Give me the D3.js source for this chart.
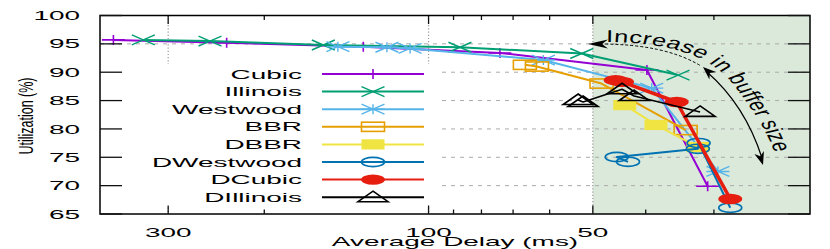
<!DOCTYPE html>
<html><head><meta charset="utf-8">
<script src="https://cdn.jsdelivr.net/npm/d3@7"></script>
<style>body{margin:0;background:#fff}svg{display:block}</style>
</head><body><svg id="c" width="830" height="249"></svg>
<script>
// ---------- data ----------
const seriesNames  = ["Cubic","Illinois","Westwood","BBR","DBBR","DWestwood","DCubic","DIllinois"];
const seriesColors = ["#9400d3","#009e73","#56b4e9","#e69f00","#f0e442","#0072b2","#e51e10","#000000"];
const seriesMarkers = ["plus","cross","star","sqOpen","sqFill","circOpen","circFill","triOpen"];

const cubicDelay = [378, 234.4, 131.7, 74, 39.8, 30.8];
const cubicUtil  = [95.7, 95.2, 94.5, 93.4, 90.4, 69.9];
const illinoisDelay = [333.2, 251.5, 155.9, 87.6, 52.4, 34.9];
const illinoisUtil  = [95.7, 95.5, 94.8, 94.4, 93.3, 89.5];
const westwoodDelay = [146.6, 119.2, 108.1, 61.6, 39.0, 29.5];
const westwoodUtil  = [94.5, 94.4, 94.2, 92.15, 87.2, 72.5];
const bbrDelay = [66.6, 63.3, 48.2, 33.8];
const bbrUtil  = [91.3, 91.0, 88.0, 79.8];
const dbbrDelay = [43.7, 38.3, 32.1];
const dbbrUtil  = [84.2, 80.7, 76.8];
const dwestwoodDelay = [43.1, 45.2, 32.1, 32.0, 28.0];
const dwestwoodUtil  = [74.2, 75.05, 76.5, 77.5, 66.1];
const dcubicDelay = [45.4, 44.2, 35.1, 28.0];
const dcubicUtil  = [88.6, 88.3, 84.75, 67.65];
const dillinoisDelay = [53.2, 52.1, 44.2, 42.0, 31.8];
const dillinoisUtil  = [85.1, 84.75, 87.0, 85.8, 83.0];

const seriesDelay = [cubicDelay, illinoisDelay, westwoodDelay, bbrDelay, dbbrDelay, dwestwoodDelay, dcubicDelay, dillinoisDelay];
const seriesUtil  = [cubicUtil, illinoisUtil, westwoodUtil, bbrUtil, dbbrUtil, dwestwoodUtil, dcubicUtil, dillinoisUtil];

const xTickMajor = [300, 100, 50];
const xTickMinor = [200, 90, 80, 70, 60, 40, 30];
const yTicks = [65, 70, 75, 80, 85, 90, 95, 100];
const xGrid = [300, 100, 50];
const yGrid = [70, 75, 80, 85, 90, 95];
const shadeFrom = 50;
const xTitle = "Average Delay (ms)";
const yTitle = "Utilization (%)";
const annotation = "Increase in buffer size";

// ---------- layout ----------
const L = 100, R = 810, T = 15.5, B = 214;
const svg = d3.select("#c");
const x = d3.scaleLog().domain([400, 20]).range([L, R]);
const y = d3.scaleLinear().domain([65, 100]).range([B, T]);
const FONT = "'Liberation Sans', Arial, Helvetica, sans-serif";
const SX = 2.15;

function stext(parent, px, py, str, anchor, size, sx, rot) {
  const g = parent.append("g").attr("transform", `translate(${px},${py}) scale(${sx},1)` + (rot ? ` rotate(${rot})` : ""));
  return g.append("text").attr("x", 0).attr("y", 0).attr("text-anchor", anchor)
    .attr("font-size", size).attr("font-family", FONT).attr("fill", "#000").text(str);
}

// shaded region
svg.append("rect").attr("x", x(shadeFrom)).attr("y", T).attr("width", R - x(shadeFrom)).attr("height", B - T)
  .attr("fill", "#dbe9da");

// grid
const grid = svg.append("g");
yGrid.forEach(v => grid.append("line").attr("x1", L).attr("x2", R).attr("y1", y(v)).attr("y2", y(v))
  .attr("stroke", "#aaa").attr("stroke-width", 1).attr("stroke-dasharray", "4,5"));
xGrid.forEach(v => grid.append("line").attr("x1", x(v)).attr("x2", x(v)).attr("y1", T).attr("y2", B)
  .attr("stroke", "#999").attr("stroke-width", 1.2).attr("stroke-dasharray", "1.2,2"));

// clip
svg.append("clipPath").attr("id", "clip").append("rect").attr("x", L).attr("y", T).attr("width", R - L).attr("height", B - T);

function marker(g, type, cx, cy, color) {
  const hw = 11.5, hh = 4.6;
  if (type === "plus") {
    g.append("path").attr("d", `M${cx-hw},${cy}H${cx+hw}M${cx},${cy-5}V${cy+5}`).attr("stroke", color).attr("stroke-width", 1.6).attr("fill", "none");
  } else if (type === "cross") {
    g.append("path").attr("d", `M${cx-hw},${cy-5}L${cx+hw},${cy+5}M${cx-hw},${cy+5}L${cx+hw},${cy-5}`).attr("stroke", color).attr("stroke-width", 1.4).attr("fill", "none");
  } else if (type === "star") {
    g.append("path").attr("d", `M${cx-hw},${cy-5}L${cx+hw},${cy+5}M${cx-hw},${cy+5}L${cx+hw},${cy-5}M${cx-hw},${cy}H${cx+hw}M${cx},${cy-5}V${cy+5}`).attr("stroke", color).attr("stroke-width", 1.4).attr("fill", "none");
  } else if (type === "sqOpen") {
    g.append("rect").attr("x", cx-hw).attr("y", cy-hh).attr("width", 2*hw).attr("height", 2*hh).attr("stroke", color).attr("stroke-width", 1.6).attr("fill", "none");
  } else if (type === "sqFill") {
    g.append("rect").attr("x", cx-hw).attr("y", cy-hh-0.5).attr("width", 2*hw).attr("height", 2*hh+1).attr("fill", color);
  } else if (type === "circOpen") {
    g.append("ellipse").attr("cx", cx).attr("cy", cy).attr("rx", hw).attr("ry", hh).attr("stroke", color).attr("stroke-width", 1.6).attr("fill", "none");
  } else if (type === "circFill") {
    g.append("ellipse").attr("cx", cx).attr("cy", cy).attr("rx", 12).attr("ry", 5.2).attr("fill", color);
  } else if (type === "triOpen") {
    g.append("path").attr("d", `M${cx},${cy-6}L${cx+15},${cy+4.5}L${cx-15},${cy+4.5}Z`).attr("stroke", color).attr("stroke-width", 1.6).attr("fill", "none");
  }
}

// series
const data = svg.append("g").attr("clip-path", "url(#clip)");
const line = d3.line().x(d => x(d[0])).y(d => y(d[1]));
seriesNames.forEach((name, i) => {
  const pts = seriesDelay[i].map((d, j) => [d, seriesUtil[i][j]]);
  const g = data.append("g");
  g.append("path").attr("d", line(pts)).attr("fill", "none").attr("stroke", seriesColors[i])
    .attr("stroke-width", name === "DCubic" ? 3.5 : (name === "DIllinois" ? 1.6 : 2)).attr("stroke-linejoin", "round");
  pts.forEach(p => marker(g, seriesMarkers[i], x(p[0]), y(p[1]), seriesColors[i]));
});

// legend
const lg = svg.append("g");
lg.append("rect").attr("x", L + 1).attr("y", 64).attr("width", 340).attr("height", 143).attr("fill", "#fff");
const legY0 = 74, legDY = 17.6;
seriesNames.forEach((name, i) => {
  const ry = legY0 + i * legDY;
  stext(lg, 302, ry + 4.6, name, "end", 13, SX);
  lg.append("line").attr("x1", 322).attr("x2", 424).attr("y1", ry).attr("y2", ry)
    .attr("stroke", seriesColors[i]).attr("stroke-width", 2);
  marker(lg, seriesMarkers[i], 373, ry, seriesColors[i]);
});

// annotation
const ann = svg.append("g");
ann.append("path").attr("d", "M600,44 Q665,44 701,66").attr("fill", "none").attr("stroke", "#000").attr("stroke-width", 1).attr("stroke-dasharray", "3,2");
ann.append("path").attr("d", "M707,72 Q745,105 762,158").attr("fill", "none").attr("stroke", "#000").attr("stroke-width", 1.2);
function arrowHead(tx, ty, dx, dy, len, hw) {
  const n = Math.hypot(dx, dy); const ux = dx / n, uy = dy / n; const px = -uy, py = ux;
  const bx = tx - ux * len, by = ty - uy * len;
  const nx = tx - ux * len * 0.7, ny = ty - uy * len * 0.7;
  ann.append("path").attr("d", `M${tx},${ty}L${bx + px*hw},${by + py*hw}L${nx},${ny}L${bx - px*hw},${by - py*hw}Z`).attr("fill", "#000");
}
arrowHead(588, 44, -1, 0, 20, 4.5);
arrowHead(703, 67, -37, -33, 13, 5);
arrowHead(763, 165, 17, 55, 13, 5);
const SA = 1.5;
const annT = svg.append("g").attr("transform", `scale(${SA},1)`);
const annPath = annT.append("path").attr("id", "annPath").attr("fill", "none")
  .attr("d", `M${606/SA},42 Q${700/SA},42 ${733/SA},84 T${775/SA},154`);
const plen = annPath.node().getTotalLength();
annT.append("text").attr("font-size", 17).attr("font-family", FONT)
  .append("textPath").attr("href", "#annPath").attr("textLength", plen - 2).attr("lengthAdjust", "spacing").text(annotation);

// frame
svg.append("rect").attr("x", L).attr("y", T).attr("width", R - L).attr("height", B - T).attr("fill", "none").attr("stroke", "#000").attr("stroke-width", 1.5);

// ticks
const tk = svg.append("g").attr("stroke", "#111").attr("stroke-width", 1.3);
xTickMajor.forEach(v => {
  tk.append("line").attr("x1", x(v)).attr("x2", x(v)).attr("y1", B).attr("y2", B - 8.5);
  tk.append("line").attr("x1", x(v)).attr("x2", x(v)).attr("y1", T).attr("y2", T + 8.5);
});
xTickMinor.forEach(v => {
  tk.append("line").attr("x1", x(v)).attr("x2", x(v)).attr("y1", B).attr("y2", B - 4.5);
  tk.append("line").attr("x1", x(v)).attr("x2", x(v)).attr("y1", T).attr("y2", T + 4.5);
});
yTicks.forEach(v => {
  tk.append("line").attr("x1", L).attr("x2", L + 22).attr("y1", y(v)).attr("y2", y(v));
  tk.append("line").attr("x1", R).attr("x2", R - 22).attr("y1", y(v)).attr("y2", y(v));
});

// tick labels
yTicks.forEach(v => stext(svg, 80, y(v) + 4.6, String(v), "end", 13, SX));
xTickMajor.forEach(v => stext(svg, x(v), 236.5, String(v), "middle", 13, SX));

// titles
stext(svg, 455, 245.5, xTitle, "middle", 13, SX);
stext(svg, 33, 116, yTitle, "middle", 12.5, 1.6, -90);
</script>
</body></html>
